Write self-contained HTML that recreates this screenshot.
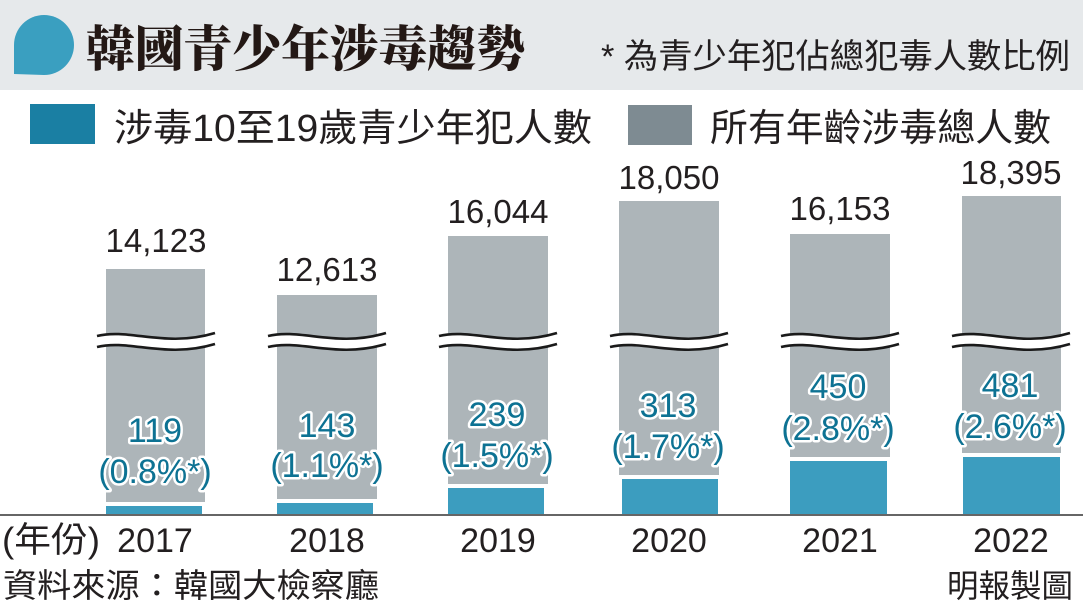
<!DOCTYPE html>
<html><head><meta charset="utf-8">
<style>
html,body{margin:0;padding:0;background:#fff;}
svg{display:block;}
.s{font-family:"Liberation Sans","Noto Sans CJK TC",sans-serif;}
.t{font-family:"Liberation Serif","Noto Serif CJK SC",serif;font-weight:900;}
.v{font-family:"Liberation Sans",sans-serif;font-size:33px;fill:#231f20;text-anchor:middle;}
.b{font-family:"Liberation Sans",sans-serif;font-size:34px;fill:#0d7293;text-anchor:middle;stroke:#fff;stroke-width:5;paint-order:stroke;stroke-linejoin:round;}
.y{font-family:"Liberation Sans",sans-serif;font-size:34px;fill:#231f20;text-anchor:middle;}
</style></head>
<body>
<svg width="1083" height="605" viewBox="0 0 1083 605" xmlns="http://www.w3.org/2000/svg">
<rect x="0" y="0" width="1083" height="90" fill="#e6e9eb"/>
<path d="M14,74 L14,45 A30,30 0 1 1 44,75 Z" fill="#3a9fc0"/>
<text class="t" x="86" y="66" font-size="49" fill="#231815" textLength="439" lengthAdjust="spacingAndGlyphs">韓國青少年涉毒趨勢</text>
<text class="s" x="601" y="68" font-size="34" fill="#231f20" textLength="469" lengthAdjust="spacingAndGlyphs">* 為青少年犯佔總犯毒人數比例</text>

<rect x="30" y="104" width="65" height="40" fill="#1a7fa3"/>
<text class="s" x="114" y="141" font-size="38" fill="#231f20" textLength="478" lengthAdjust="spacingAndGlyphs">涉毒10至19歲青少年犯人數</text>
<rect x="628" y="105" width="64" height="40" fill="#7e8b92"/>
<text class="s" x="710" y="141" font-size="38" fill="#231f20" textLength="341" lengthAdjust="spacingAndGlyphs">所有年齡涉毒總人數</text>

<g fill="#adb5b9">
<rect x="106" y="269" width="99" height="233"/>
<rect x="277" y="295" width="100" height="204"/>
<rect x="448" y="236" width="100" height="248"/>
<rect x="619" y="201" width="100" height="274"/>
<rect x="790" y="234" width="100" height="223"/>
<rect x="962" y="196" width="99" height="257"/>
</g>
<g fill="#3c9dbf">
<rect x="106" y="506" width="96" height="8"/>
<rect x="277" y="503" width="96" height="11"/>
<rect x="448" y="488" width="96" height="26"/>
<rect x="622" y="479" width="96" height="35"/>
<rect x="790" y="461" width="97" height="53"/>
<rect x="963" y="457" width="97" height="57"/>
</g>
<line x1="0" y1="515" x2="1083" y2="515" stroke="#333" stroke-width="1.6"/>

<defs>
<g id="brk">
<path d="M0,16 C33,8 68,28 118,13 L118,24 C68,39 33,19 0,27 Z" fill="#fff"/>
<path d="M0,16 C33,8 68,28 118,13" fill="none" stroke="#1a1a1a" stroke-width="2.6"/>
<path d="M0,27 C33,19 68,39 118,24" fill="none" stroke="#1a1a1a" stroke-width="2.6"/>
</g>
</defs>
<use href="#brk" x="97" y="320"/>
<use href="#brk" x="268" y="320"/>
<use href="#brk" x="439" y="320"/>
<use href="#brk" x="610" y="320"/>
<use href="#brk" x="781" y="320"/>
<use href="#brk" x="952" y="320"/>

<text class="v" x="156" y="252">14,123</text>
<text class="v" x="327" y="281">12,613</text>
<text class="v" x="498" y="223">16,044</text>
<text class="v" x="669" y="189">18,050</text>
<text class="v" x="840" y="220">16,153</text>
<text class="v" x="1011" y="184">18,395</text>

<text class="b" x="155" y="442">119</text>
<text class="b" x="155" y="483">(0.8%*)</text>
<text class="b" x="327" y="437">143</text>
<text class="b" x="327" y="477">(1.1%*)</text>
<text class="b" x="497" y="426">239</text>
<text class="b" x="497" y="467">(1.5%*)</text>
<text class="b" x="668" y="417">313</text>
<text class="b" x="668" y="458">(1.7%*)</text>
<text class="b" x="838" y="398">450</text>
<text class="b" x="838" y="440">(2.8%*)</text>
<text class="b" x="1010" y="397">481</text>
<text class="b" x="1010" y="438">(2.6%*)</text>

<text class="s" x="2" y="552" font-size="35" fill="#231f20" textLength="98" lengthAdjust="spacingAndGlyphs">(年份)</text>
<text class="y" x="155" y="552">2017</text>
<text class="y" x="327" y="552">2018</text>
<text class="y" x="498" y="552">2019</text>
<text class="y" x="669" y="552">2020</text>
<text class="y" x="840" y="552">2021</text>
<text class="y" x="1011" y="552">2022</text>

<text class="s" x="3" y="597" font-size="33" fill="#231f20" textLength="376" lengthAdjust="spacingAndGlyphs">資料來源：韓國大檢察廳</text>
<text class="s" x="947" y="597" font-size="32" fill="#231f20" textLength="126" lengthAdjust="spacingAndGlyphs">明報製圖</text>
</svg>
</body></html>
